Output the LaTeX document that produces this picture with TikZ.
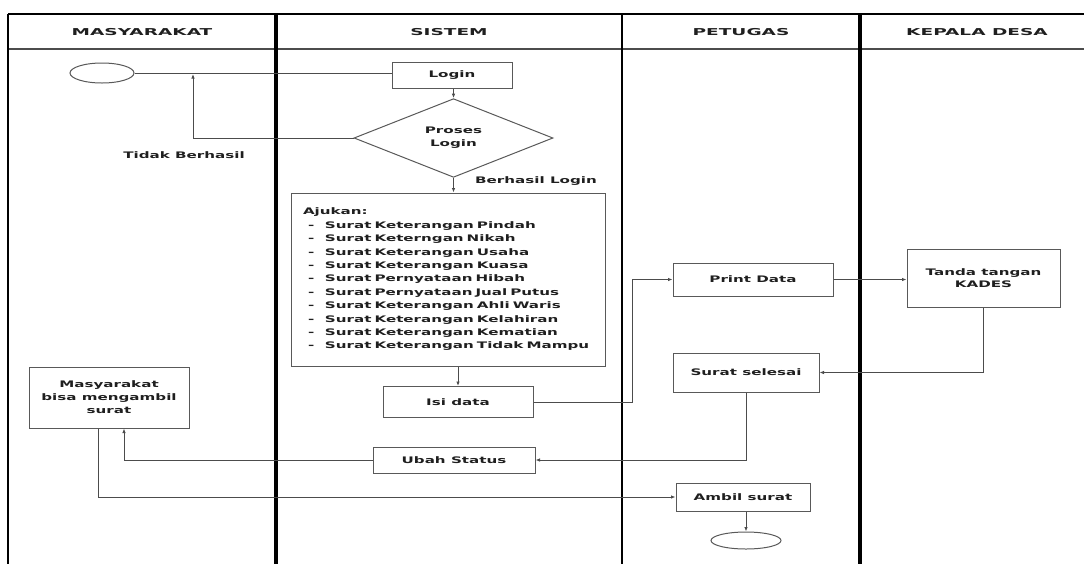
\documentclass[tikz,border=0pt]{standalone}
\usepackage{fontspec}
\usetikzlibrary{shapes.geometric,arrows.meta}
\newfontfamily\bodyfont{DejaVu Sans}[FakeStretch=1.68]
\newfontfamily\headfont{DejaVu Sans}[FakeStretch=1.95]
\begin{document}
\begin{tikzpicture}[x=1pt,y=-1pt,
  txt/.style={font=\bodyfont\bfseries\fontsize{9}{13}\selectfont, text=black!88},
  box/.style={txt, draw=black!65, line width=1pt, fill=white, inner sep=0pt, align=center},
  term/.style={draw=black!65, line width=1pt, ellipse, inner sep=0pt},
  conn/.style={draw=black!70, line width=0.9pt},
  arr/.style={conn, -{Latex[length=4.5pt,width=3.5pt]}},
  lbl/.style={txt, inner sep=0pt},
  hdr/.style={font=\headfont\bfseries\fontsize{9.5}{11}\selectfont, text=black!88, inner sep=0pt},
  lane/.style={draw=black, line width=#1}
]
\useasboundingbox (0,0) rectangle (1084,563);
\clip (0,0) rectangle (1084,563);
% frame
\draw[lane=2.5pt] (8,14) -- (1100,14);
\draw[draw=black!70, line width=1.3pt] (8,49) -- (1100,49);
\draw[lane=2pt] (8,14) -- (8,570);
\draw[lane=4pt] (276,14) -- (276,570);
\draw[lane=1.8pt] (622,14) -- (622,570);
\draw[lane=4pt] (860,14) -- (860,570);
% headers
\node[hdr] (h1) at (142,32) {MASYARAKAT};
\node[hdr] (h2) at (449,32) {SISTEM};
\node[hdr] (h3) at (741,32) {PETUGAS};
\node[hdr] (h4) at (977,32) {KEPALA DESA};
% nodes
\node[term, minimum width=64, minimum height=20] (start) at (102,73) {};
\node[box, minimum width=120, minimum height=26] (login) at (452,75) {Login};
\node[box, diamond, minimum width=199, minimum height=61] (proses) at (453.5,138) {Proses\\Login};
\node[box, minimum width=314, minimum height=173, text width=290pt, align=left, font=\bodyfont\bfseries\fontsize{9}{13.4}\selectfont] (ajukan) at (448,279.5) {Ajukan:\\
\makebox[22pt][l]{\hspace{5pt}-}Surat Keterangan Pindah\\
\makebox[22pt][l]{\hspace{5pt}-}Surat Keterngan Nikah\\
\makebox[22pt][l]{\hspace{5pt}-}Surat Keterangan Usaha\\
\makebox[22pt][l]{\hspace{5pt}-}Surat Keterangan Kuasa\\
\makebox[22pt][l]{\hspace{5pt}-}Surat Pernyataan Hibah\\
\makebox[22pt][l]{\hspace{5pt}-}Surat Pernyataan Jual Putus\\
\makebox[22pt][l]{\hspace{5pt}-}Surat Keterangan Ahli Waris\\
\makebox[22pt][l]{\hspace{5pt}-}Surat Keterangan Kelahiran\\
\makebox[22pt][l]{\hspace{5pt}-}Surat Keterangan Kematian\\
\makebox[22pt][l]{\hspace{5pt}-}Surat Keterangan Tidak Mampu};
\node[box, minimum width=150, minimum height=31] (isi) at (458,402) {Isi data};
\node[box, minimum width=162, minimum height=26] (ubah) at (454,460) {Ubah Status};
\node[box, minimum width=160, minimum height=61] (masy) at (109,397.5) {Masyarakat\\bisa mengambil\\surat};
\node[box, minimum width=160, minimum height=33] (print) at (753,279.5) {Print Data};
\node[box, minimum width=153, minimum height=58, font=\bodyfont\bfseries\fontsize{9}{12}\selectfont] (tanda) at (983.5,278) {Tanda tangan\\KADES};
\node[box, minimum width=146, minimum height=39] (selesai) at (746,372.5) {Surat selesai};
\node[box, minimum width=134, minimum height=28] (ambil) at (743,497) {Ambil surat};
\node[term, minimum width=70, minimum height=17] (end) at (746,540.5) {};
% labels
\node[lbl] (tidak) at (184,155) {Tidak Berhasil};
\node[lbl] (berhasil) at (536,181) {Berhasil Login};
% connectors
\coordinate (ret) at (193,74);
\coordinate (e1) at (632,0);
\draw[conn] (start.east) -- (start.east -| login.west);
\draw[arr] (login.south -| proses.north) -- (proses.north);
\draw[arr] (proses.west) -| (ret);
\draw[arr] (proses.south) -- (proses.south |- ajukan.north);
\draw[arr] (ajukan.south -| isi.north) -- (isi.north);
\draw[arr] (isi.east) -| (e1 |- print.west) -- (print.west);
\draw[arr] (print.east) -- (print.east -| tanda.west);
\draw[arr] (tanda.south) |- (selesai.east);
\draw[arr] (selesai.south) |- (ubah.east);
\draw[arr] (ubah.west) -| ([xshift=15pt]masy.south);
\draw[arr] ([xshift=-11pt]masy.south) |- (ambil.west);
\draw[arr] (ambil.south -| end.north) -- (end.north);
\end{tikzpicture}
\end{document}
